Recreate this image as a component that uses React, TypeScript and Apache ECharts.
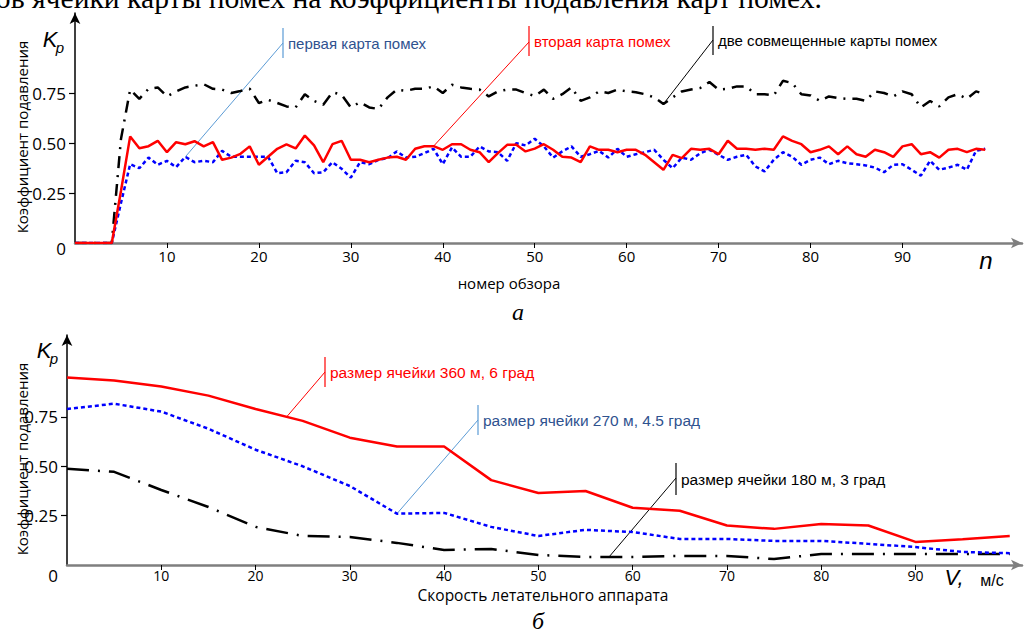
import React, { useEffect, useRef } from "react";
import * as echarts from "echarts";

// ---------- DATA ----------
// top chart: n = 0..99 (index of each value)
const topXTicks = [10, 20, 30, 40, 50, 60, 70, 80, 90];
const topYTicks = [0, 0.25, 0.5, 0.75];
const redTop = [
  0, 0, 0, 0, 0, 0.26, 0.533, 0.474, 0.484, 0.511,
  0.454, 0.504, 0.494, 0.509, 0.483, 0.504, 0.416, 0.427, 0.446, 0.483,
  0.391, 0.431, 0.471, 0.493, 0.473, 0.537, 0.488, 0.404, 0.494, 0.511,
  0.416, 0.416, 0.404, 0.416, 0.427, 0.431, 0.416, 0.471, 0.484, 0.484,
  0.466, 0.494, 0.494, 0.466, 0.454, 0.404, 0.449, 0.491, 0.491, 0.458,
  0.472, 0.494, 0.466, 0.431, 0.427, 0.404, 0.483, 0.466, 0.466, 0.454,
  0.466, 0.466, 0.441, 0.404, 0.366, 0.441, 0.424, 0.471, 0.466, 0.471,
  0.444, 0.511, 0.471, 0.471, 0.466, 0.471, 0.466, 0.533, 0.511, 0.494,
  0.454, 0.466, 0.483, 0.444, 0.483, 0.444, 0.431, 0.466, 0.454, 0.431,
  0.483, 0.494, 0.444, 0.454, 0.427, 0.466, 0.471, 0.454, 0.471, 0.466,
];
const blueTop = [
  0, 0, 0, 0, 0, 0.2, 0.394, 0.374, 0.427, 0.391,
  0.411, 0.379, 0.431, 0.404, 0.411, 0.404, 0.461, 0.431, 0.431, 0.431,
  0.431, 0.431, 0.349, 0.354, 0.411, 0.404, 0.349, 0.354, 0.404, 0.371,
  0.327, 0.404, 0.394, 0.416, 0.424, 0.458, 0.427, 0.431, 0.449, 0.471,
  0.394, 0.478, 0.431, 0.431, 0.483, 0.458, 0.454, 0.411, 0.499, 0.488,
  0.521, 0.483, 0.427, 0.458, 0.483, 0.431, 0.444, 0.461, 0.427, 0.471,
  0.431, 0.444, 0.454, 0.466, 0.416, 0.374, 0.427, 0.416, 0.449, 0.466,
  0.441, 0.416, 0.431, 0.441, 0.383, 0.358, 0.416, 0.454, 0.431, 0.391,
  0.416, 0.427, 0.394, 0.411, 0.399, 0.394, 0.388, 0.377, 0.354, 0.391,
  0.394, 0.366, 0.337, 0.411, 0.366, 0.377, 0.391, 0.366, 0.461, 0.471,
];
const blackTop = [
  0, 0, 0, 0, 0, 0.52, 0.767, 0.721, 0.771, 0.778,
  0.733, 0.758, 0.778, 0.786, 0.794, 0.771, 0.767, 0.75, 0.76, 0.771,
  0.7, 0.716, 0.7, 0.683, 0.678, 0.744, 0.71, 0.691, 0.754, 0.741,
  0.678, 0.704, 0.678, 0.67, 0.728, 0.767, 0.761, 0.771, 0.771, 0.783,
  0.75, 0.791, 0.778, 0.771, 0.767, 0.733, 0.758, 0.767, 0.767, 0.75,
  0.735, 0.767, 0.721, 0.744, 0.778, 0.711, 0.728, 0.758, 0.75, 0.767,
  0.758, 0.754, 0.744, 0.728, 0.695, 0.728, 0.758, 0.767, 0.775, 0.805,
  0.767, 0.771, 0.783, 0.783, 0.744, 0.744, 0.738, 0.811, 0.8, 0.744,
  0.738, 0.711, 0.733, 0.725, 0.721, 0.721, 0.711, 0.758, 0.75, 0.733,
  0.758, 0.744, 0.678, 0.71, 0.683, 0.728, 0.744, 0.721, 0.758, 0.744,
];

// bottom chart
const speedV = [0, 5, 10, 15, 20, 25, 30, 35, 40, 45, 50, 55, 60, 65, 70, 75, 80, 85, 90, 95, 100];
const botXTicks = [10, 20, 30, 40, 50, 60, 70, 80, 90];
const botYTicks = [0, 0.25, 0.5, 0.75];
const redBot = [0.95, 0.934, 0.904, 0.858, 0.79, 0.73, 0.645, 0.6, 0.6, 0.43, 0.365, 0.375, 0.29, 0.275, 0.2, 0.183, 0.208, 0.2, 0.117, 0.13, 0.147];
const blueBot = [0.79, 0.817, 0.777, 0.69, 0.584, 0.5, 0.4, 0.26, 0.264, 0.193, 0.147, 0.178, 0.167, 0.132, 0.132, 0.122, 0.122, 0.107, 0.091, 0.066, 0.06];
const blackBot = [0.487, 0.472, 0.38, 0.294, 0.193, 0.147, 0.142, 0.112, 0.076, 0.081, 0.051, 0.041, 0.041, 0.046, 0.046, 0.03, 0.056, 0.056, 0.056, 0.056, 0.056];

const topLabels = ["первая карта помех", "вторая карта помех", "две совмещенные карты помех"];
const botLabels = ["размер ячейки 360 м, 6 град", "размер ячейки 270 м, 4.5 град", "размер ячейки 180 м, 3 град"];

const SANS = '"Liberation Sans", Arial, sans-serif';
const TICKF = '"Open Sans", "Liberation Sans", sans-serif';
const SERIF = '"Liberation Serif", "DejaVu Serif", serif';
const RED = "#FF0000";
const BLUE = "#0000FF";
const BLUE_TXT = "#2F528F";
const BLUE_LEAD = "#5B9BD5";

function interp(xs: number[], ys: number[], x: number) {
  for (let i = 0; i < xs.length - 1; i++) {
    if (x >= xs[i] && x <= xs[i + 1]) {
      const t = (x - xs[i]) / (xs[i + 1] - xs[i]);
      return ys[i] + t * (ys[i + 1] - ys[i]);
    }
  }
  return ys[ys.length - 1];
}

export default function App() {
  const ref = useRef<HTMLDivElement>(null);
  useEffect(() => {
    document.body.style.margin = "0";
    const chart = echarts.init(ref.current!, undefined, { renderer: "svg" });
    const idx = (arr: number[]) => arr.map((v, i) => [i, v]);
    const pairs = (xs: number[], ys: number[]) => ys.map((v, i) => [xs[i], v]);

    const xAxisBase = (grid: number, max: number, ticks: number[], fs: number, margin: number) => ({
      gridIndex: grid,
      type: "value",
      min: 0,
      max,
      axisLine: {
        show: true,
        lineStyle: { color: "#7f7f7f", width: 2.5 },
        symbol: ["none", "arrow"],
        symbolSize: [8, 11],
      },
      axisTick: { show: true, customValues: ticks, length: 5, lineStyle: { color: "#000", width: 1 } },
      axisLabel: { customValues: ticks, margin, fontSize: fs, color: "#000", fontFamily: TICKF },
      splitLine: { show: false },
    });
    const yAxisBase = (grid: number, max: number, ticks: number[], zeroShift: number) => ({
      gridIndex: grid,
      type: "value",
      min: 0,
      max,
      axisLine: {
        show: true,
        onZero: false,
        lineStyle: { color: "#000", width: 1.5 },
        symbol: ["none", "arrow"],
        symbolSize: [8, 11],
      },
      axisTick: { show: true, customValues: ticks.filter((t) => t > 0), length: 6, lineStyle: { color: "#000", width: 1.2 } },
      axisLabel: {
        customValues: ticks,
        margin: 9,
        fontSize: 17,
        color: "#000",
        fontFamily: TICKF,
        formatter: (v: number) => (v === 0 ? "{z|0}" : v.toFixed(2)),
        rich: { z: { fontSize: 17, fontFamily: TICKF, color: "#000", padding: [zeroShift, 0, 0, 0] } },
      },
      splitLine: { show: false },
    });

    const lineS = (name: string, data: any, xi: number, color: string, type: any, width = 2.5) => ({
      name,
      type: "line",
      xAxisIndex: xi,
      yAxisIndex: xi,
      data,
      symbol: "none",
      smooth: false,
      lineStyle: { color, width, type, cap: "butt" },
    });

    chart.setOption({
      animation: false,
      backgroundColor: "#ffffff",
      grid: [
        { left: 75, top: 13, width: 947, height: 230 },
        { left: 67, top: 335, width: 955, height: 230 },
      ],
      xAxis: [xAxisBase(0, 103, topXTicks, 15, 5), xAxisBase(1, 101.3, botXTicks, 14, 3)],
      yAxis: [yAxisBase(0, 1.15, topYTicks, 11), yAxisBase(1, 1.165, botYTicks, 20)],
      series: [
        lineS(topLabels[2], idx(blackTop), 0, "#000", [12, 7, 2, 7]),
        lineS(topLabels[0], idx(blueTop), 0, BLUE, [4, 3]),
        lineS(topLabels[1], idx(redTop), 0, RED, "solid"),
        lineS(botLabels[2], pairs(speedV, blackBot), 1, "#000", [22, 9, 2, 9]),
        lineS(botLabels[1], pairs(speedV, blueBot), 1, BLUE, [4, 3]),
        lineS(botLabels[0], pairs(speedV, redBot), 1, RED, "solid"),
      ],
    });

    const p = (grid: number, x: number, y: number) =>
      chart.convertToPixel({ gridIndex: grid } as any, [x, y]) as number[];

    const tA = p(0, 12, blueTop[12]);
    const tB = p(0, 39, redTop[39]);
    const tC = p(0, 64, blackTop[64]);
    const bA = p(1, 23.3, interp(speedV, redBot, 23.3));
    const bB = p(1, 35, interp(speedV, blueBot, 35));
    const bC = p(1, 57.5, interp(speedV, blackBot, 57.5));

    const callout = (bx: number, by1: number, by2: number, ly: number, end: number[], text: string, txtColor: string, leadColor: string, fs: number) => [
      { type: "line", shape: { x1: bx, y1: by1, x2: bx, y2: by2 }, style: { stroke: leadColor, lineWidth: 1.2 } },
      { type: "line", shape: { x1: bx, y1: ly, x2: end[0], y2: end[1] }, style: { stroke: leadColor, lineWidth: 1 } },
      {
        type: "text",
        x: bx + 5,
        y: (by1 + by2) / 2,
        style: { text, fill: txtColor, font: `${fs}px ${SANS}`, verticalAlign: "middle", align: "left" },
      },
    ];

    const txt = (x: number, y: number, text: string, font: string, extra: any = {}) => ({
      type: "text",
      x,
      y,
      style: { text, font, fill: "#000", verticalAlign: "middle", align: "center", ...extra },
    });

    chart.setOption({
      graphic: [
        txt(822, -2, "размеров ячейки карты помех на коэффициенты подавления карт помех.", `29.6px ${SERIF}`, { align: "right" }),
        ...callout(283, 28, 58, 43, tA, topLabels[0], BLUE_TXT, BLUE_LEAD, 15),
        ...callout(529, 26, 56, 42, tB, topLabels[1], RED, RED, 15),
        ...callout(713, 26, 55, 40, tC, topLabels[2], "#000", "#000", 15),
        ...callout(325, 357, 387, 372, bA, botLabels[0], RED, RED, 15.5),
        ...callout(478, 405, 435, 420, bB, botLabels[1], BLUE_TXT, BLUE_LEAD, 15.5),
        ...callout(676, 463, 495, 478, bC, botLabels[2], "#000", "#000", 15.5),
        // axis names
        txt(509, 283, "номер обзора", `15px ${TICKF}`),
        txt(543, 595, "Скорость летательного аппарата", `15.5px ${TICKF}`),
        { ...txt(22, 137, "Коэффициент подавления", `15px ${TICKF}`), rotation: Math.PI / 2 },
        { ...txt(22, 459, "Коэффициент подавления", `15px ${TICKF}`), rotation: Math.PI / 2 },
        // Kp symbols
        txt(50, 39, "K", `italic 22px ${SANS}`),
        txt(60, 47, "p", `italic 15px ${SANS}`),
        txt(44, 350, "K", `italic 22px ${SANS}`),
        txt(54, 358, "p", `italic 15px ${SANS}`),
        // axis variable symbols
        txt(986, 260, "n", `italic 24px ${SANS}`),
        txt(954, 577, "V,", `italic 22px ${SANS}`),
        txt(992, 580, "м/с", `16px ${SANS}`),
        // panel letters
        txt(518, 312, "а", `italic 24px ${SERIF}`),
        txt(538, 621, "б", `italic 24px ${SERIF}`),
      ],
    });

    return () => chart.dispose();
  }, []);
  return <div ref={ref} style={{ width: 1029, height: 638 }} />;
}
